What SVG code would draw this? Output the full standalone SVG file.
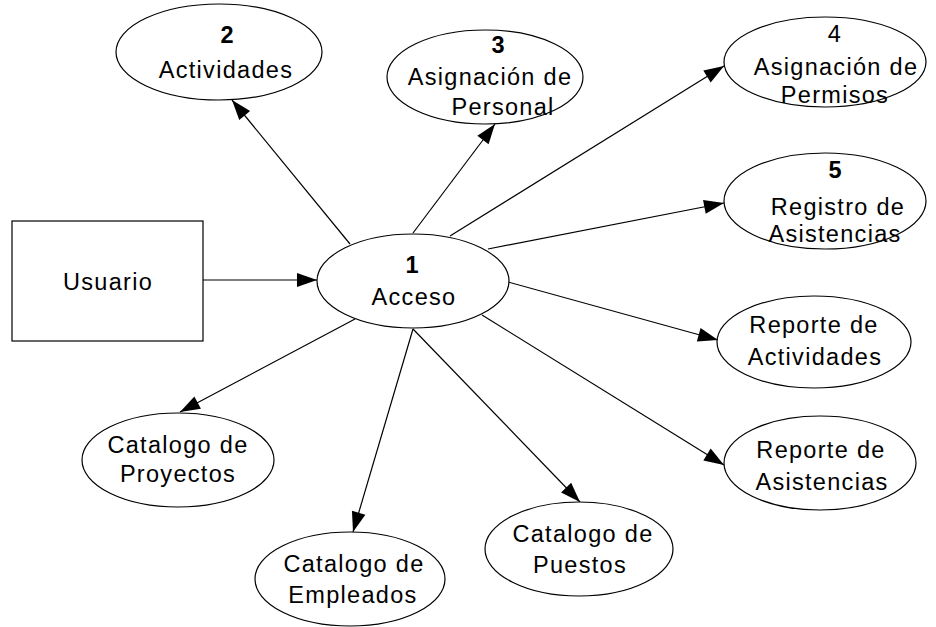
<svg xmlns="http://www.w3.org/2000/svg" width="936" height="627" viewBox="0 0 936 627">
<style>
.n{fill:#fff;stroke:#000;stroke-width:1.2}
.t{font-family:"Liberation Sans",Arial,sans-serif;font-size:23.5px;letter-spacing:1.3px;fill:#000;text-anchor:middle}
.b{font-weight:bold;letter-spacing:0}
.c{stroke:#000;stroke-width:1.2;fill:none;marker-end:url(#ah)}
</style>
<defs>
<marker id="ah" markerUnits="userSpaceOnUse" markerWidth="20" markerHeight="14" refX="20" refY="7" orient="auto" overflow="visible">
<path d="M0,0 L20,7 L0,14 z" fill="#000"/>
</marker>
</defs>
<rect width="936" height="627" fill="#fff"/>
<g id="connectors">
<line class="c" x1="203" y1="280" x2="317" y2="280"/>
<line class="c" x1="350" y1="244" x2="232" y2="100"/>
<line class="c" x1="413" y1="233" x2="495" y2="124"/>
<line class="c" x1="450" y1="236" x2="724" y2="66"/>
<line class="c" x1="488" y1="249" x2="724" y2="203"/>
<line class="c" x1="508" y1="282" x2="718" y2="340"/>
<line class="c" x1="482" y1="315" x2="724" y2="465"/>
<line class="c" x1="413" y1="329" x2="580" y2="502"/>
<line class="c" x1="413" y1="329" x2="353" y2="532"/>
<line class="c" x1="355" y1="319" x2="180" y2="412"/>
</g>
<g id="usuario">
<rect class="n" x="12" y="221" width="191" height="120"/>
<text class="t" x="108" y="290">Usuario</text>
</g>
<g id="acceso">
<ellipse class="n" cx="413" cy="281" rx="96" ry="47"/>
<text class="t b" x="412" y="273">1</text>
<text class="t" x="414" y="305">Acceso</text>
</g>
<g id="actividades">
<ellipse class="n" cx="219" cy="52" rx="103" ry="48"/>
<text class="t b" x="227" y="43">2</text>
<text class="t" x="226" y="78">Actividades</text>
</g>
<g id="asignacion-personal">
<ellipse class="n" cx="485" cy="77" rx="98" ry="47"/>
<text class="t b" x="498" y="53">3</text>
<text class="t" x="490" y="85">Asignación de</text>
<text class="t" x="503" y="115">Personal</text>
</g>
<g id="asignacion-permisos">
<ellipse class="n" cx="825" cy="62" rx="101" ry="45"/>
<text class="t" x="835" y="42">4</text>
<text class="t" x="836" y="75">Asignación de</text>
<text class="t" x="835" y="103">Permisos</text>
</g>
<g id="registro-asistencias">
<ellipse class="n" cx="825" cy="201" rx="101" ry="48"/>
<text class="t b" x="835" y="178">5</text>
<text class="t" x="838" y="215">Registro de</text>
<text class="t" x="835" y="242">Asistencias</text>
</g>
<g id="reporte-actividades">
<ellipse class="n" cx="814" cy="342" rx="97" ry="46"/>
<text class="t" x="814" y="333">Reporte de</text>
<text class="t" x="815" y="365">Actividades</text>
</g>
<g id="reporte-asistencias">
<ellipse class="n" cx="820" cy="463" rx="96" ry="47"/>
<text class="t" x="821" y="458">Reporte de</text>
<text class="t" x="822" y="490">Asistencias</text>
</g>
<g id="catalogo-proyectos">
<ellipse class="n" cx="178" cy="460" rx="96" ry="47"/>
<text class="t" x="178" y="453">Catalogo de</text>
<text class="t" x="178" y="482">Proyectos</text>
</g>
<g id="catalogo-empleados">
<ellipse class="n" cx="350" cy="579" rx="95" ry="47"/>
<text class="t" x="354" y="572">Catalogo de</text>
<text class="t" x="353" y="603">Empleados</text>
</g>
<g id="catalogo-puestos">
<ellipse class="n" cx="579" cy="549" rx="94" ry="47"/>
<text class="t" x="583" y="542">Catalogo de</text>
<text class="t" x="580" y="573">Puestos</text>
</g>
</svg>
